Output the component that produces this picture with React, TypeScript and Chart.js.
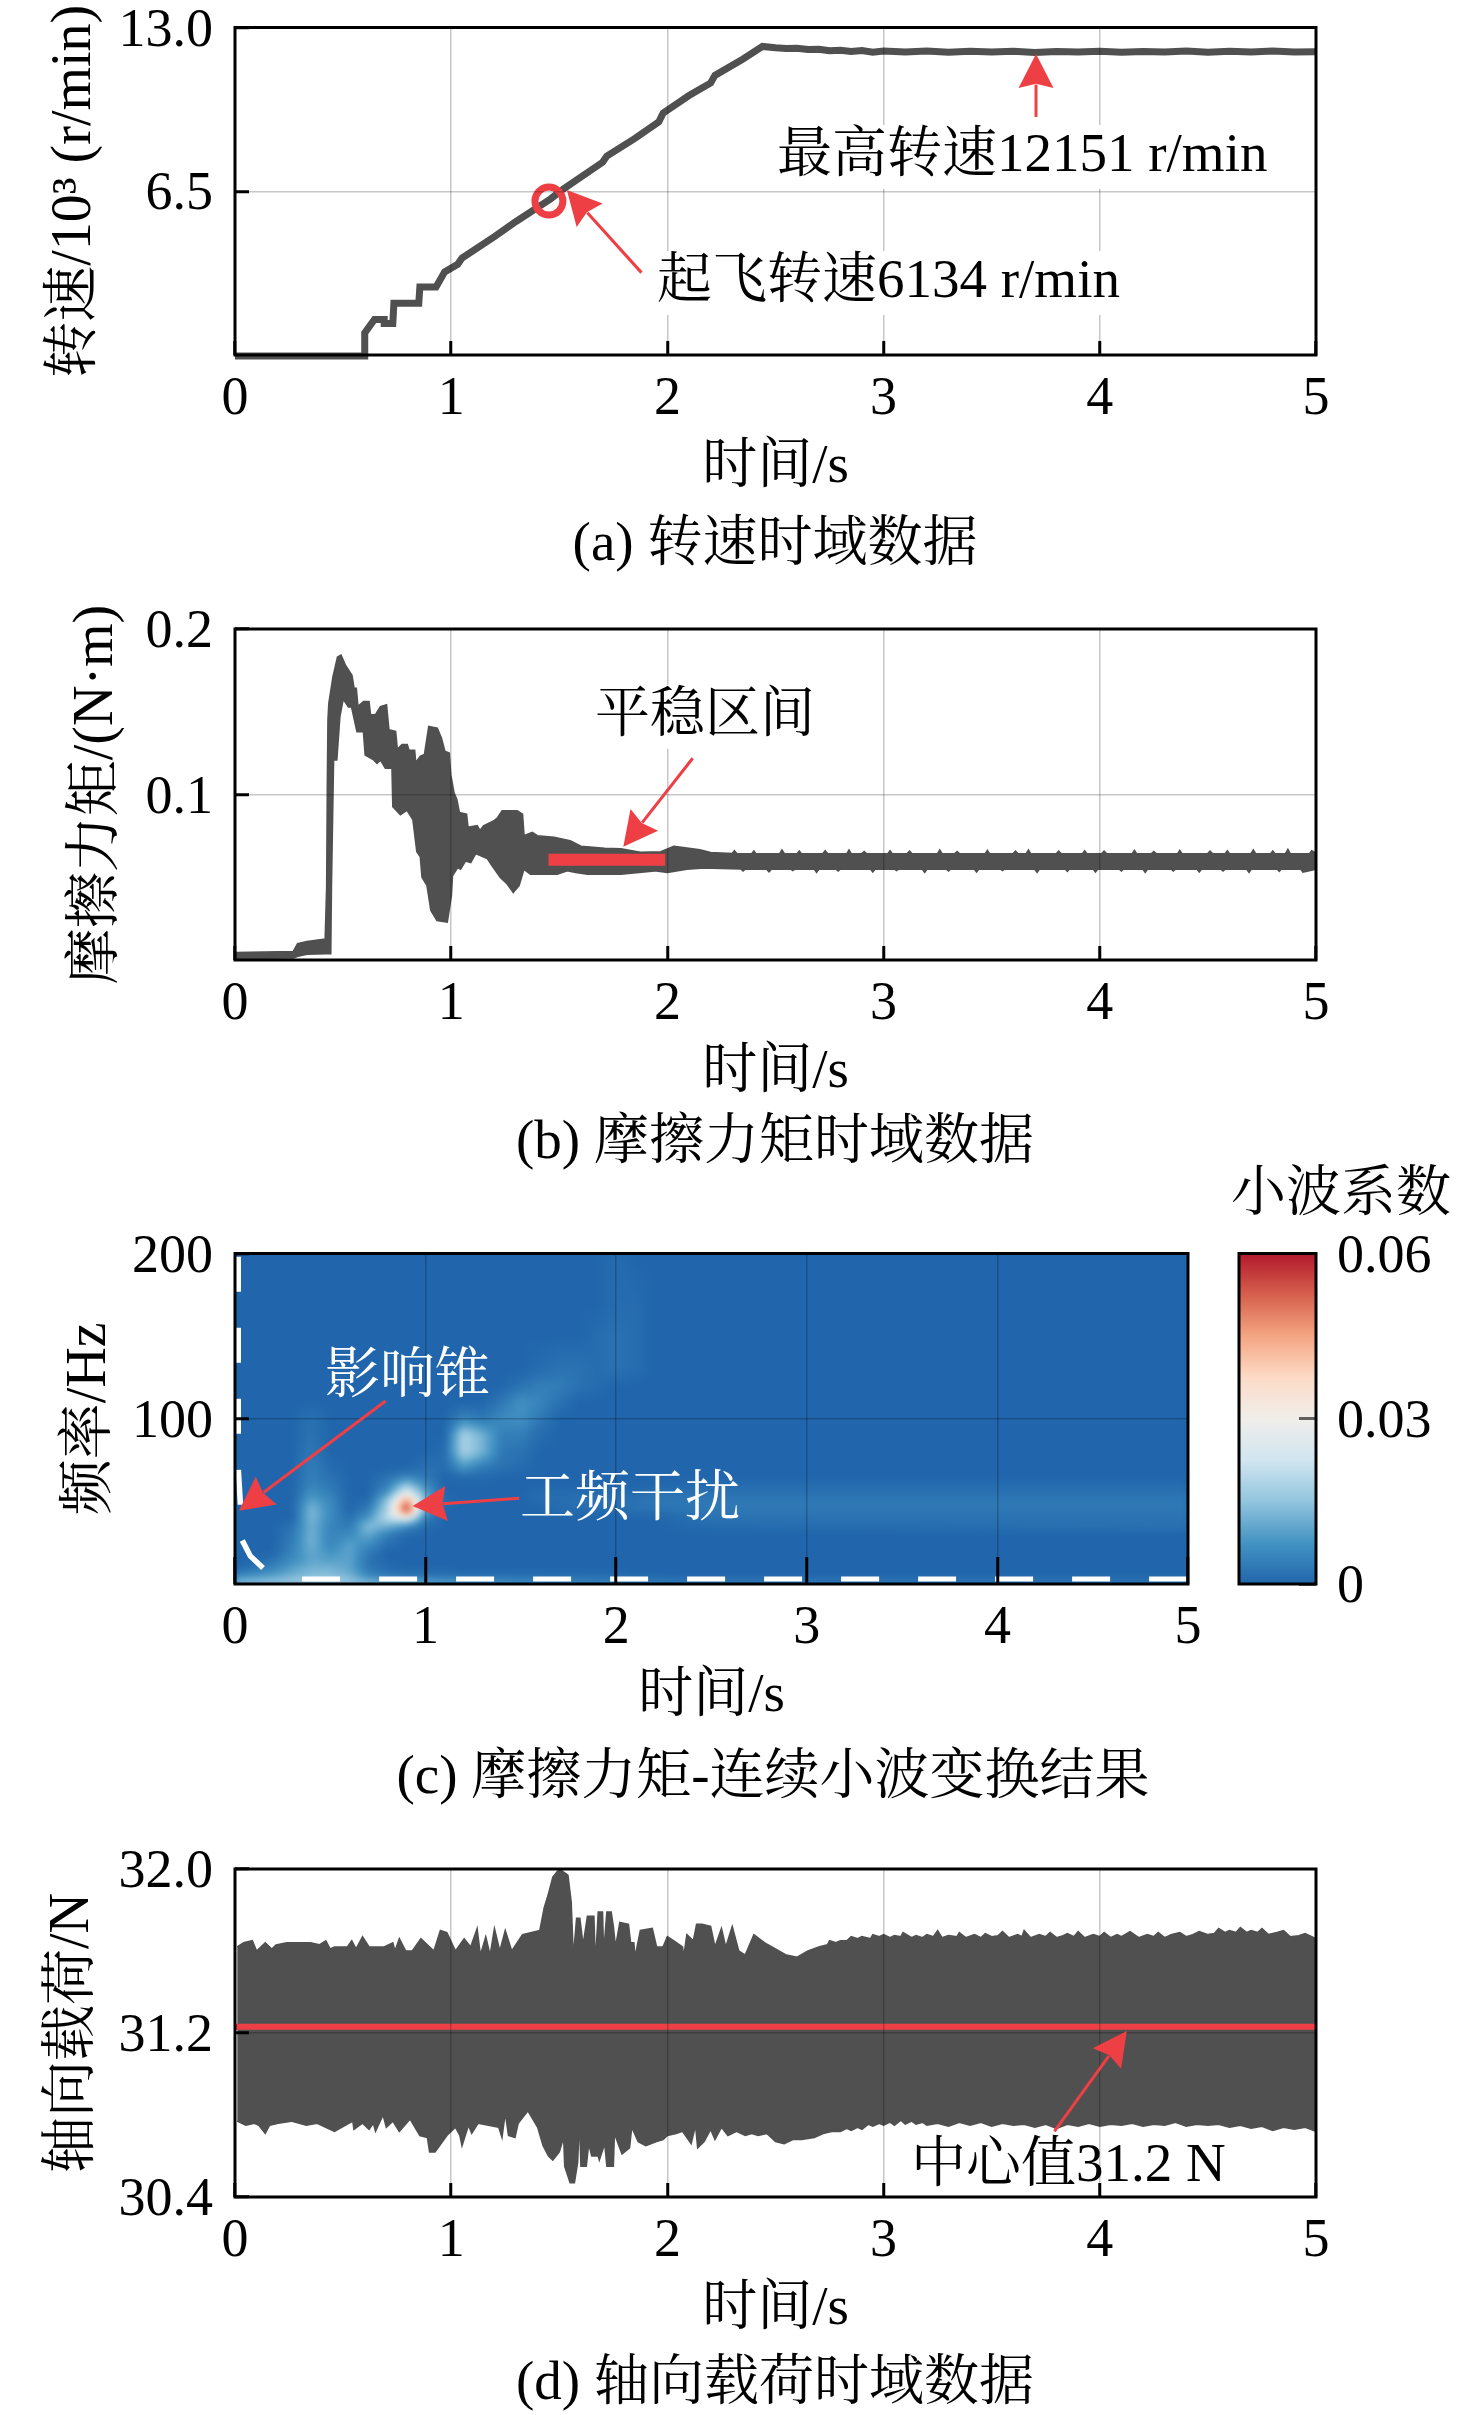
import React, { useEffect, useRef } from "react";
import { Chart, registerables } from "chart.js";

Chart.register(...registerables);

const SERIF = '"Liberation Serif", "Noto Serif CJK SC", "Noto Sans CJK SC", serif';
const GRAY = "#505050";
const RED = "#ee4044";

const timeTicks = [0, 1, 2, 3, 4, 5];
const speedTicks = [13, 6.5];
const torqueTicks = [0.2, 0.1];
const freqTicks = [200, 100];
const loadTicks = [32, 31.2, 30.4];
const coefTicks = [0.06, 0.03, 0];

const speedCurve = [[0,-0.04],[0.6,-0.04],[0.6,0.88],[0.645,1.41],[0.69,1.41],[0.69,1.25],[0.73,1.25],[0.735,2.05],[0.85,2.05],[0.855,2.7],[0.93,2.7],[0.97,3.3],[1.03,3.6],[1.05,3.85],[1.2,4.7],[1.3,5.3],[1.46,6.2],[1.52,6.6],[1.7,7.65],[1.72,7.9],[1.85,8.6],[1.96,9.25],[1.98,9.6],[2.1,10.3],[2.2,10.8],[2.22,11.1],[2.35,11.75],[2.44,12.25],[2.5,12.2],[2.55,12.17],[2.6,12.18],[2.65,12.13],[2.7,12.14],[2.75,12.08],[2.8,12.1],[2.85,12.05],[2.9,12.09],[2.95,12.02],[3,12.07],[3.1,12.03],[3.2,12.07],[3.3,12.02],[3.4,12.06],[3.5,12.03],[3.6,12.06],[3.7,12.01],[3.8,12.05],[3.9,12.03],[4,12.06],[4.1,12.02],[4.2,12.05],[4.3,12.03],[4.4,12.07],[4.5,12.02],[4.6,12.06],[4.7,12.03],[4.8,12.07],[4.9,12.03],[5,12.04]];
const liftoffPoint = [[1.452,6.11]];

const torqueUpper = [[0,.0044],[.27,.005],[.29,.0097],[.333,.0111],[.418,.0125],[.425,.044],[.428,.105],[.431,.145],[.435,.155],[.454,.171],[.475,.183],[.49,.184],[.51,.178],[.54,.172],[.55,.164],[.56,.164],[.568,.153],[.595,.156],[.619,.156],[.626,.148],[.65,.148],[.673,.153],[.7,.154],[.711,.139],[.742,.138],[.75,.127],[.773,.13],[.796,.13],[.804,.1266],[.83,.1266],[.835,.119],[.858,.123],[.877,.124],[.897,.141],[.935,.14],[.954,.134],[.97,.126],[.99,.125],[.997,.112],[1.012,.101],[1.025,.097],[1.037,.089],[1.07,.088],[1.077,.08],[1.12,.081],[1.133,.078],[1.15,.081],[1.198,.084],[1.216,.086],[1.236,.09],[1.305,.09],[1.329,.088],[1.336,.075],[1.375,.077],[1.398,.075],[1.475,.074],[1.55,.072],[1.6,.0686],[1.71,.0673],[1.785,.067],[1.875,.065],[1.97,.0653],[2.03,.0686],[2.09,.0675],[2.15,.0665],[2.2,.0648],[2.3,.0642],[2.31,.0658],[2.32,.0642],[2.39,.064],[2.4,.0656],[2.41,.064],[2.52,.0642],[2.53,.0662],[2.54,.0642],[2.6,.064],[2.61,.0656],[2.62,.064],[2.72,.0642],[2.73,.0658],[2.74,.0642],[2.83,.064],[2.84,.0662],[2.85,.064],[2.9,.0642],[2.91,.0654],[2.92,.0642],[3.02,.064],[3.03,.0658],[3.04,.064],[3.11,.0642],[3.12,.0656],[3.13,.0642],[3.25,.064],[3.26,.0662],[3.27,.064],[3.33,.0642],[3.34,.0654],[3.35,.0642],[3.47,.064],[3.48,.066],[3.49,.064],[3.6,.0642],[3.61,.0656],[3.62,.0642],[3.66,.064],[3.67,.0662],[3.68,.064],[3.8,.0642],[3.81,.0656],[3.82,.0642],[3.92,.064],[3.93,.0658],[3.94,.064],[4.01,.0642],[4.02,.0656],[4.03,.0642],[4.15,.064],[4.16,.066],[4.17,.064],[4.24,.0642],[4.25,.0654],[4.26,.0642],[4.36,.064],[4.37,.066],[4.38,.064],[4.5,.0642],[4.51,.0656],[4.52,.0642],[4.58,.064],[4.59,.0658],[4.6,.064],[4.7,.0642],[4.71,.0662],[4.72,.0642],[4.79,.064],[4.8,.0656],[4.81,.064],[4.86,.0642],[4.87,.0666],[4.88,.0642],[4.97,.064],[4.98,.0658],[5,.0645]];
const torqueLower = [[0,.001],[.27,.0014],[.29,.0024],[.333,.0036],[.42,.004],[.442,.004],[.445,.044],[.455,.121],[.47,.121],[.484,.147],[.5,.158],[.525,.153],[.54,.153],[.565,.138],[.595,.138],[.603,.124],[.642,.121],[.657,.119],[.673,.121],[.696,.116],[.727,.116],[.731,.0927],[.765,.088],[.796,.0907],[.824,.0847],[.842,.0655],[.858,.0625],[.866,.05],[.889,.045],[.907,.03],[.935,.024],[.981,.023],[1,.039],[1.005,.051],[1.03,.056],[1.043,.055],[1.066,.06],[1.09,.059],[1.113,.0645],[1.167,.0615],[1.19,.057],[1.228,.05],[1.26,.046],[1.287,.041],[1.313,.045],[1.336,.055],[1.367,.052],[1.41,.052],[1.49,.052],[1.537,.054],[1.576,.053],[1.63,.052],[1.785,.052],[1.94,.054],[2,.053],[2.09,.055],[2.17,.0558],[2.25,.0555],[2.34,.0552],[2.35,.054],[2.36,.0552],[2.46,.055],[2.47,.0535],[2.48,.055],[2.57,.0552],[2.58,.0542],[2.59,.0552],[2.68,.055],[2.69,.0532],[2.7,.055],[2.78,.0552],[2.79,.054],[2.8,.0552],[2.94,.055],[2.95,.0534],[2.96,.055],[3.05,.0552],[3.06,.0542],[3.07,.0552],[3.18,.055],[3.19,.0532],[3.2,.055],[3.29,.0552],[3.3,.054],[3.31,.0552],[3.42,.055],[3.43,.0534],[3.44,.055],[3.54,.0552],[3.55,.0542],[3.56,.0552],[3.7,.055],[3.71,.0532],[3.72,.055],[3.84,.0552],[3.85,.0538],[3.86,.0552],[3.97,.055],[3.98,.0534],[3.99,.055],[4.09,.0552],[4.1,.054],[4.11,.0552],[4.2,.055],[4.21,.0532],[4.22,.055],[4.33,.0552],[4.34,.054],[4.35,.0552],[4.45,.055],[4.46,.0534],[4.47,.055],[4.56,.0552],[4.57,.054],[4.58,.0552],[4.68,.055],[4.69,.0532],[4.7,.055],[4.82,.0552],[4.83,.0538],[4.84,.0552],[4.93,.055],[4.94,.0532],[5,.055]];
const steadyBand = [[1.45,.0605],[1.99,.0605]];

const loadUpper = [[.01,31.62],[.04,31.64],[.08,31.65],[.1,31.6],[.14,31.64],[.17,31.61],[.19,31.63],[.24,31.64],[.35,31.64],[.39,31.63],[.42,31.65],[.44,31.61],[.46,31.62],[.52,31.62],[.54,31.65],[.56,31.61],[.59,31.67],[.62,31.62],[.69,31.62],[.73,31.64],[.74,31.6],[.76,31.66],[.79,31.6],[.82,31.6],[.86,31.66],[.92,31.6],[.95,31.7],[.98,31.69],[1.02,31.6],[1.06,31.66],[1.09,31.62],[1.12,31.71],[1.135,31.58],[1.16,31.67],[1.18,31.58],[1.2,31.71],[1.225,31.6],[1.25,31.7],[1.28,31.6],[1.33,31.68],[1.41,31.7],[1.43,31.81],[1.45,31.88],[1.47,31.96],[1.5,32],[1.54,31.97],[1.555,31.84],[1.565,31.57],[1.58,31.76],[1.595,31.76],[1.61,31.63],[1.63,31.77],[1.66,31.77],[1.667,31.54],[1.68,31.79],[1.7,31.79],[1.705,31.59],[1.72,31.79],[1.74,31.79],[1.75,31.72],[1.76,31.62],[1.78,31.74],[1.82,31.73],[1.83,31.64],[1.845,31.64],[1.85,31.57],[1.875,31.7],[1.93,31.71],[1.95,31.62],[1.98,31.62],[2,31.67],[2.03,31.65],[2.07,31.62],[2.075,31.57],[2.09,31.68],[2.12,31.65],[2.135,31.73],[2.16,31.73],[2.2,31.72],[2.22,31.62],[2.25,31.71],[2.27,31.62],[2.3,31.72],[2.33,31.6],[2.36,31.58],[2.4,31.68],[2.45,31.64],[2.5,31.61],[2.55,31.58],[2.6,31.57],[2.65,31.6],[2.7,31.62],[2.74,31.63],[2.75,31.65],[2.78,31.64],[2.8,31.65],[2.83,31.65],[2.85,31.67],[2.88,31.66],[2.9,31.67],[2.94,31.66],[2.95,31.68],[2.98,31.67],[3,31.68],[3.03,31.665],[3.05,31.675],[3.08,31.67],[3.09,31.69],[3.13,31.665],[3.15,31.675],[3.18,31.665],[3.2,31.68],[3.23,31.67],[3.25,31.7],[3.27,31.665],[3.3,31.675],[3.34,31.67],[3.35,31.69],[3.38,31.665],[3.42,31.68],[3.45,31.665],[3.47,31.685],[3.5,31.67],[3.53,31.675],[3.55,31.695],[3.58,31.665],[3.62,31.68],[3.64,31.67],[3.65,31.7],[3.68,31.665],[3.72,31.68],[3.75,31.67],[3.77,31.69],[3.8,31.665],[3.83,31.675],[3.85,31.685],[3.88,31.67],[3.9,31.695],[3.93,31.665],[3.97,31.68],[4,31.67],[4.02,31.69],[4.05,31.665],[4.08,31.68],[4.1,31.67],[4.14,31.695],[4.18,31.665],[4.22,31.68],[4.25,31.67],[4.27,31.69],[4.3,31.665],[4.33,31.68],[4.37,31.69],[4.4,31.67],[4.43,31.68],[4.46,31.695],[4.5,31.68],[4.53,31.685],[4.55,31.71],[4.58,31.69],[4.6,31.7],[4.63,31.69],[4.65,31.715],[4.68,31.69],[4.7,31.7],[4.73,31.69],[4.75,31.71],[4.78,31.68],[4.82,31.69],[4.85,31.7],[4.88,31.67],[4.92,31.675],[4.95,31.685],[5,31.66]];
const loadLower = [[.01,30.77],[.05,30.75],[.09,30.76],[.11,30.75],[.14,30.71],[.16,30.75],[.2,30.76],[.26,30.77],[.33,30.75],[.38,30.76],[.46,30.72],[.51,30.75],[.545,30.77],[.55,30.73],[.59,30.76],[.62,30.73],[.64,30.76],[.65,30.72],[.685,30.8],[.7,30.74],[.73,30.77],[.76,30.72],[.81,30.78],[.855,30.7],[.89,30.69],[.9,30.62],[.925,30.62],[.96,30.67],[.98,30.7],[1.02,30.74],[1.04,30.7],[1.05,30.65],[1.08,30.75],[1.095,30.71],[1.125,30.76],[1.22,30.74],[1.235,30.69],[1.25,30.81],[1.265,30.7],[1.295,30.69],[1.31,30.76],[1.355,30.82],[1.4,30.74],[1.425,30.65],[1.45,30.6],[1.47,30.58],[1.5,30.62],[1.52,30.69],[1.525,30.55],[1.55,30.47],[1.57,30.47],[1.585,30.57],[1.593,30.78],[1.6,30.55],[1.625,30.55],[1.636,30.66],[1.65,30.6],[1.68,30.6],[1.685,30.58],[1.71,30.66],[1.72,30.55],[1.75,30.55],[1.755,30.71],[1.79,30.61],[1.825,30.64],[1.835,30.74],[1.865,30.67],[1.9,30.65],[1.95,30.67],[1.98,30.68],[2,30.7],[2.04,30.71],[2.07,30.72],[2.11,30.66],[2.13,30.75],[2.14,30.64],[2.17,30.67],[2.2,30.73],[2.22,30.68],[2.25,30.74],[2.28,30.7],[2.32,30.72],[2.36,30.7],[2.39,30.71],[2.42,30.7],[2.46,30.71],[2.5,30.67],[2.54,30.66],[2.58,30.68],[2.62,30.68],[2.68,30.69],[2.72,30.71],[2.76,30.72],[2.8,30.72],[2.83,30.735],[2.85,30.725],[2.88,30.74],[2.9,30.73],[2.93,30.755],[2.95,30.745],[2.98,30.76],[3,30.75],[3.03,30.765],[3.05,30.75],[3.08,30.775],[3.1,30.755],[3.13,30.77],[3.15,30.755],[3.18,30.765],[3.2,30.75],[3.25,30.76],[3.3,30.745],[3.35,30.765],[3.4,30.75],[3.45,30.765],[3.5,30.745],[3.55,30.76],[3.6,30.75],[3.65,30.755],[3.7,30.74],[3.75,30.755],[3.8,30.735],[3.85,30.755],[3.9,30.745],[3.95,30.76],[4,30.745],[4.05,30.755],[4.1,30.75],[4.15,30.76],[4.2,30.745],[4.25,30.755],[4.3,30.75],[4.35,30.765],[4.4,30.745],[4.45,30.755],[4.5,30.75],[4.55,30.755],[4.6,30.74],[4.65,30.75],[4.7,30.735],[4.75,30.745],[4.8,30.725],[4.85,30.74],[4.9,30.73],[4.95,30.74],[5,30.72]];
const loadCentre = [[0,31.23],[5,31.23]];

// Wavelet coefficients in units of 0.001, one row per frequency, one column per time.
const cwtTimes = [0,.1,.2,.3,.4,.5,.6,.7,.8,.9,1,1.1,1.2,1.3,1.4,1.5,1.6,1.7,1.8,1.9,2,2.1,2.2,2.5,5];
const cwtFreqs = [0,5,10,15,20,25,30,35,40,45,50,55,60,65,70,80,90,100,110,120,130,150,170,200];
const cwtRows = [
  [16,17,18,18,19,20,18,16,14,13,12,11,10,9,9,8,8,7,7,6,6,5,5,4,3],
  [5,7,9,12,14,14,12,5,3,2,2,2,1,1,1,1,1,1,1,1,1,0,0,0,0],
  [0,2,5,9,12,12,10,3,1,0,0,0,0,0,0,0,0,0,0,0,0,0,0,0,0],
  [0,0,2,6,10,9,10,2,0,0,0,0,0,0,0,0,0,0,0,0,0,0,0,0,0],
  [0,0,0,5,11,7,10,4,0,0,0,0,0,0,0,0,0,0,0,0,0,0,0,0,0],
  [0,0,0,4,12,5,9,7,2,0,0,0,0,0,0,0,0,0,0,0,0,0,0,0,0],
  [0,0,0,3,12,5,6,11,4,1,0,0,0,0,0,0,0,0,0,0,0,0,0,0,0],
  [0,0,0,2,12,5,3,14,12,6,1,0,0,0,0,0,0,0,0,0,0,0,0,1,2],
  [0,0,0,0,13,6,2,8,20,28,4,0,0,0,0,0,0,0,0,0,0,0,0,2,2],
  [0,0,0,0,13,6,0,4,18,58,10,0,0,0,0,0,0,1,1,1,1,2,2,3,3],
  [0,0,0,0,10,6,0,1,16,48,12,1,0,0,0,0,1,1,2,2,2,2,3,3,3],
  [0,0,0,0,7,4,0,0,8,28,10,0,0,0,0,0,1,1,1,1,1,1,2,2,2],
  [0,0,0,0,5,3,0,0,4,15,6,0,0,0,0,0,0,0,0,0,0,0,0,1,1],
  [0,0,0,0,4,2,0,0,2,5,3,0,1,1,0,0,0,0,0,0,0,0,0,0,0],
  [0,0,0,0,4,1,0,0,0,0,2,1,7,3,2,1,0,0,0,0,0,0,0,0,0],
  [0,0,0,0,3,0,0,0,0,0,0,1,18,12,3,2,0,0,0,0,0,0,0,0,0],
  [0,0,0,0,2,0,0,0,0,0,0,0,18,12,4,4,1,0,0,0,0,0,0,0,0],
  [0,0,0,0,2,0,0,0,0,0,0,0,5,3,6,7,3,0,0,0,0,0,0,0,0],
  [0,0,0,0,0,0,0,0,0,0,0,0,0,0,3,7,5,2,0,0,0,0,0,0,0],
  [0,0,0,0,0,0,0,0,0,0,0,0,0,0,0,2,4,4,2,1,0,0,0,0,0],
  [0,0,0,0,0,0,0,0,0,0,0,0,0,0,0,0,1,2,2,1,2,1,0,0,0],
  [0,0,0,0,0,0,0,0,0,0,0,0,0,0,0,0,0,0,0,1,2,1,0,0,0],
  [0,0,0,0,0,0,0,0,0,0,0,0,0,0,0,0,0,0,0,0,1,1,0,0,0],
  [0,0,0,0,0,0,0,0,0,0,0,0,0,0,0,0,0,0,0,0,1,0,0,0,0],
];
const coneLeft = [[.017,198],[.017,120],[.017,70],[.028,49],[.035,27],[.08,17],[.147,9.7]];
const coneBottom = [[.352,3],[5,3]];

const colourStops = [0,.125,.25,.375,.5,.625,.75,.875,1];
const colourValues = [[33,102,172],[67,147,195],[146,197,222],[209,229,240],[240,238,234],[253,219,199],[244,165,130],[214,96,77],[178,24,43]];
const coefRange = [[0,.06]];

function pts(pairs: number[][]) {
  return pairs.map(([x, y]) => ({ x, y }));
}

function colourAt(u: number) {
  const v = Math.min(1, Math.max(0, u));
  let i = 0;
  while (i < colourStops.length - 2 && v > colourStops[i + 1]) i++;
  const w = (v - colourStops[i]) / (colourStops[i + 1] - colourStops[i]);
  return colourValues[i].map((c, k) => c + (colourValues[i + 1][k] - c) * w);
}

function cellAt(axis: number[], v: number) {
  let i = 0;
  while (i < axis.length - 2 && v > axis[i + 1]) i++;
  return [i, Math.min(1, Math.max(0, (v - axis[i]) / (axis[i + 1] - axis[i])))];
}

const heatPlugin = {
  id: "heat",
  beforeDatasetsDraw(chart: any) {
    const { left, top, width, height } = chart.chartArea;
    const W = Math.round(width);
    const H = Math.round(height);
    const off = document.createElement("canvas");
    off.width = W;
    off.height = H;
    const octx = off.getContext("2d")!;
    const img = octx.createImageData(W, H);
    for (let py = 0; py < H; py++) {
      const [r, fr] = cellAt(cwtFreqs, chart.scales.y.getValueForPixel(top + py + 0.5));
      for (let px = 0; px < W; px++) {
        const [c, fc] = cellAt(cwtTimes, chart.scales.x.getValueForPixel(left + px + 0.5));
        const a = cwtRows[r][c] * (1 - fc) + cwtRows[r][c + 1] * fc;
        const b = cwtRows[r + 1][c] * (1 - fc) + cwtRows[r + 1][c + 1] * fc;
        const col = colourAt((a * (1 - fr) + b * fr) / 60);
        const o = (py * W + px) * 4;
        img.data[o] = col[0];
        img.data[o + 1] = col[1];
        img.data[o + 2] = col[2];
        img.data[o + 3] = 255;
      }
    }
    octx.putImageData(img, 0, 0);
    const ctx = chart.ctx;
    ctx.save();
    ctx.beginPath();
    ctx.rect(left, top, width, height);
    ctx.clip();
    ctx.fillStyle = "rgb(33,102,172)";
    ctx.fillRect(left, top, width, height);
    ctx.filter = "blur(3px)";
    ctx.drawImage(off, left, top);
    ctx.restore();
  },
};

const framePlugin = {
  id: "frame",
  afterDraw(chart: any) {
    const { left, top, width, height } = chart.chartArea;
    const ctx = chart.ctx;
    ctx.save();
    ctx.strokeStyle = "#000";
    ctx.lineWidth = 3;
    ctx.strokeRect(left, top, width, height);
    ctx.restore();
  },
};

type Arrow = { from: number[]; to: number[] };
type Note = { text: string; at: number[]; color?: string; clear?: boolean };
type Caption = { text: string; x: number; y: number };

function notesPlugin(arrows: Arrow[], notes: Note[], captions: Caption[], canvasTop: number) {
  return {
    id: "notes",
    afterDraw(chart: any) {
      const ctx = chart.ctx;
      const sx = chart.scales.x;
      const sy = chart.scales.y;
      ctx.save();
      ctx.font = `55px ${SERIF}`;
      ctx.textBaseline = "middle";
      for (const n of notes) {
        const x = sx.getPixelForValue(n.at[0]);
        const y = sy.getPixelForValue(n.at[1]);
        const w = ctx.measureText(n.text).width;
        if (n.clear) {
          ctx.fillStyle = "#fff";
          ctx.fillRect(x - 4, y - 32, w + 8, 64);
        }
        ctx.fillStyle = n.color || "#000";
        ctx.textAlign = "left";
        ctx.fillText(n.text, x, y);
      }
      for (const a of arrows) {
        const x0 = sx.getPixelForValue(a.from[0]);
        const y0 = sy.getPixelForValue(a.from[1]);
        const x1 = sx.getPixelForValue(a.to[0]);
        const y1 = sy.getPixelForValue(a.to[1]);
        const ang = Math.atan2(y1 - y0, x1 - x0);
        const ux = Math.cos(ang);
        const uy = Math.sin(ang);
        const len = 34;
        const half = 17.5;
        ctx.strokeStyle = RED;
        ctx.fillStyle = RED;
        ctx.lineWidth = 3;
        ctx.beginPath();
        ctx.moveTo(x0, y0);
        ctx.lineTo(x1 - ux * len * 0.9, y1 - uy * len * 0.9);
        ctx.stroke();
        ctx.beginPath();
        ctx.moveTo(x1, y1);
        ctx.lineTo(x1 - ux * len - uy * half, y1 - uy * len + ux * half);
        ctx.lineTo(x1 - ux * len * 0.88, y1 - uy * len * 0.88);
        ctx.lineTo(x1 - ux * len + uy * half, y1 - uy * len - ux * half);
        ctx.closePath();
        ctx.fill();
      }
      ctx.fillStyle = "#000";
      ctx.textAlign = "center";
      for (const c of captions) ctx.fillText(c.text, c.x, c.y - canvasTop);
      ctx.restore();
    },
  };
}

type Panel = {
  canvasTop: number;
  canvasBottom: number;
  plotTop: number;
  plotBottom: number;
  plotRight: number;
  yMin: number;
  yMax: number;
  yTicks: number[];
  decimals: number;
  yTitle: string;
  yTitleGap: number;
  xTickLen: number;
  datasets: any[];
  plugins: any[];
};

const TICK_FONT = { family: SERIF, size: 54, lineHeight: 1 };
const TITLE_FONT = { family: SERIF, size: 55 };
const Y_TITLE_FONT = { family: SERIF, size: 56 };
const GRID = "rgba(0,0,0,0.22)";

function buildChart(canvas: HTMLCanvasElement, p: Panel) {
  const xAxisHeight = 146;
  const width = 1476;
  const height = p.canvasBottom - p.canvasTop;
  canvas.width = width;
  canvas.height = height;
  return new Chart(canvas, {
    type: "line",
    data: { datasets: p.datasets },
    plugins: p.plugins,
    options: {
      animation: false,
      responsive: false,
      devicePixelRatio: 1,
      layout: {
        padding: {
          left: 0,
          top: p.plotTop - p.canvasTop,
          right: width - p.plotRight,
          bottom: p.canvasBottom - p.plotBottom - xAxisHeight,
        },
      },
      plugins: { legend: { display: false }, tooltip: { enabled: false }, title: { display: false } },
      scales: {
        x: {
          type: "linear",
          min: 0,
          max: 5,
          afterBuildTicks(s: any) {
            s.ticks = timeTicks.map((value) => ({ value }));
          },
          afterFit(s: any) {
            s.height = xAxisHeight;
          },
          border: { display: false },
          grid: { color: GRID, lineWidth: 1.5, z: 1, tickLength: -p.xTickLen, tickColor: "#000", tickWidth: 3 },
          ticks: { color: "#000", font: TICK_FONT, autoSkip: false, maxRotation: 0, padding: 18 + p.xTickLen },
          title: { display: true, text: "时间/s", color: "#000", font: TITLE_FONT, padding: { top: 0, bottom: 0 } },
        },
        y: {
          type: "linear",
          min: p.yMin,
          max: p.yMax,
          afterBuildTicks(s: any) {
            s.ticks = p.yTicks.map((value) => ({ value }));
          },
          afterFit(s: any) {
            s.width = 235;
          },
          border: { display: false },
          grid: { color: GRID, lineWidth: 1.5, z: 1, tickLength: -14, tickColor: "#000", tickWidth: 3 },
          ticks: {
            color: "#000",
            font: TICK_FONT,
            autoSkip: false,
            padding: 22 + 14,
            labelOffset: 4,
            callback: (v: any) => Number(v).toFixed(p.decimals),
          },
          title: { display: true, text: p.yTitle, color: "#000", font: Y_TITLE_FONT, padding: { top: p.yTitleGap, bottom: 0 } },
        },
      },
    } as any,
  });
}

function curve(data: number[][], color: string, width: number, extra: any = {}) {
  return {
    data: pts(data),
    borderColor: color,
    backgroundColor: color,
    borderWidth: width,
    pointRadius: 0,
    tension: 0,
    clip: false,
    fill: false,
    order: 2,
    borderCapStyle: "butt",
    ...extra,
  };
}

function buildColourbar(canvas: HTMLCanvasElement) {
  const canvasTop = 1140;
  const canvasBottom = 1670;
  canvas.width = 1476;
  canvas.height = canvasBottom - canvasTop;
  const plotTop = 1253.5;
  const plotBottom = 1584;
  return new Chart(canvas, {
    type: "bar",
    data: {
      labels: ["小波系数"],
      datasets: [
        {
          data: coefRange,
          barPercentage: 1,
          categoryPercentage: 1,
          backgroundColor(c: any) {
            const area = c.chart.chartArea;
            if (!area) return "#fff";
            const g = c.chart.ctx.createLinearGradient(0, area.bottom, 0, area.top);
            colourStops.forEach((s, i) => g.addColorStop(s, `rgb(${colourValues[i].join(",")})`));
            return g;
          },
        },
      ],
    },
    plugins: [
      framePlugin,
      {
        id: "cbTitle",
        afterDraw(chart: any) {
          const ctx = chart.ctx;
          ctx.save();
          ctx.font = `55px ${SERIF}`;
          ctx.fillStyle = "#000";
          ctx.textAlign = "center";
          ctx.textBaseline = "middle";
          ctx.fillText("小波系数", 1341, 1196 - canvasTop);
          ctx.restore();
        },
      },
    ],
    options: {
      animation: false,
      responsive: false,
      devicePixelRatio: 1,
      layout: { padding: { left: 1239, top: plotTop - canvasTop, right: 0, bottom: canvasBottom - plotBottom } },
      plugins: { legend: { display: false }, tooltip: { enabled: false } },
      scales: {
        x: { display: false },
        y: {
          position: "right",
          min: 0,
          max: 0.06,
          afterBuildTicks(s: any) {
            s.ticks = coefTicks.map((value) => ({ value }));
          },
          afterFit(s: any) {
            s.width = 160;
          },
          border: { display: false },
          grid: { drawOnChartArea: false, z: 1, tickLength: -17, tickColor: "rgba(0,0,0,0.6)", tickWidth: 3 },
          ticks: {
            color: "#000",
            font: TICK_FONT,
            padding: 38,
            labelOffset: 4,
            autoSkip: false,
            callback: (v: any) => String(Number(v)),
          },
        },
      },
    } as any,
  });
}

const panels: Panel[] = [
  {
    canvasTop: -40,
    canvasBottom: 580,
    plotTop: 27.5,
    plotBottom: 355,
    plotRight: 1316,
    yMin: 0,
    yMax: 13,
    yTicks: speedTicks,
    decimals: 1,
    yTitle: "转速/10³ (r/min)",
    yTitleGap: 42,
    xTickLen: 14,
    datasets: [
      curve(speedCurve, GRAY, 7),
      {
        data: pts(liftoffPoint),
        showLine: false,
        pointRadius: 14,
        pointBorderWidth: 7,
        pointBorderColor: RED,
        pointBackgroundColor: "rgba(0,0,0,0)",
        clip: false,
        order: 1,
      },
    ],
    plugins: [
      framePlugin,
      notesPlugin(
        [
          { from: [3.705, 9.45], to: [3.705, 11.95] },
          { from: [1.88, 3.27], to: [1.535, 6.55] },
        ],
        [
          { text: "最高转速12151 r/min", at: [2.507, 7.86], clear: true },
          { text: "起飞转速6134 r/min", at: [1.952, 2.86], clear: true },
        ],
        [{ text: "(a) 转速时域数据", x: 775, y: 546 }],
        -40,
      ),
    ],
  },
  {
    canvasTop: 560,
    canvasBottom: 1180,
    plotTop: 629,
    plotBottom: 960,
    plotRight: 1316,
    yMin: 0,
    yMax: 0.2,
    yTicks: torqueTicks,
    decimals: 1,
    yTitle: "摩擦力矩/(N·m)",
    yTitleGap: 64,
    xTickLen: 14,
    datasets: [
      curve(torqueUpper, GRAY, 2, { fill: "+1" }),
      curve(torqueLower, GRAY, 2),
      curve(steadyBand, RED, 12, { order: 1 }),
    ],
    plugins: [
      framePlugin,
      notesPlugin(
        [{ from: [2.117, 0.1219], to: [1.796, 0.0685] }],
        [{ text: "平稳区间", at: [1.665, 0.1469], clear: true }],
        [{ text: "(b) 摩擦力矩时域数据", x: 775, y: 1144 }],
        560,
      ),
    ],
  },
  {
    canvasTop: 1180,
    canvasBottom: 1810,
    plotTop: 1253.5,
    plotBottom: 1584,
    plotRight: 1188,
    yMin: 0,
    yMax: 200,
    yTicks: freqTicks,
    decimals: 0,
    yTitle: "频率/Hz",
    yTitleGap: 57,
    xTickLen: 27,
    datasets: [
      curve(coneLeft, "#fff", 5.5, { borderDash: [35, 36] }),
      curve(coneBottom, "#fff", 5, { borderDash: [38, 39] }),
    ],
    plugins: [
      heatPlugin,
      framePlugin,
      notesPlugin(
        [
          { from: [0.79, 110.7], to: [0.021, 44.3] },
          { from: [1.49, 51.9], to: [0.932, 47.2] },
        ],
        [
          { text: "影响锥", at: [0.472, 124.7], color: "#fff" },
          { text: "工频干扰", at: [1.495, 50.3], color: "#fff" },
        ],
        [{ text: "(c) 摩擦力矩-连续小波变换结果", x: 773, y: 1779 }],
        1180,
      ),
    ],
  },
  {
    canvasTop: 1800,
    canvasBottom: 2415,
    plotTop: 1869,
    plotBottom: 2197,
    plotRight: 1316,
    yMin: 30.4,
    yMax: 32,
    yTicks: loadTicks,
    decimals: 1,
    yTitle: "轴向载荷/N",
    yTitleGap: 40,
    xTickLen: 14,
    datasets: [
      curve(loadUpper, GRAY, 1.5, { fill: "+1" }),
      curve(loadLower, GRAY, 1.5),
      curve(loadCentre, RED, 6, { order: 1 }),
    ],
    plugins: [
      framePlugin,
      notesPlugin(
        [{ from: [3.79, 30.72], to: [4.125, 31.21] }],
        [{ text: "中心值31.2 N", at: [3.127, 30.55] }],
        [{ text: "(d) 轴向载荷时域数据", x: 775, y: 2385 }],
        1800,
      ),
    ],
  },
];

export default function App() {
  const refs = useRef<(HTMLCanvasElement | null)[]>([]);
  const cbRef = useRef<HTMLCanvasElement | null>(null);
  useEffect(() => {
    const charts = panels.map((p, i) => buildChart(refs.current[i]!, p));
    charts.push(buildColourbar(cbRef.current!));
    return () => charts.forEach((c) => c.destroy());
  }, []);
  return (
    <div style={{ position: "absolute", left: 0, top: 0, width: 1476, height: 2415, overflow: "hidden", background: "#fff" }}>
      <canvas ref={cbRef} style={{ position: "absolute", left: 0, top: 1140 }} />
      {panels.map((p, i) => (
        <canvas
          key={i}
          ref={(el) => {
            refs.current[i] = el;
          }}
          style={{ position: "absolute", left: 0, top: p.canvasTop }}
        />
      ))}
    </div>
  );
}
